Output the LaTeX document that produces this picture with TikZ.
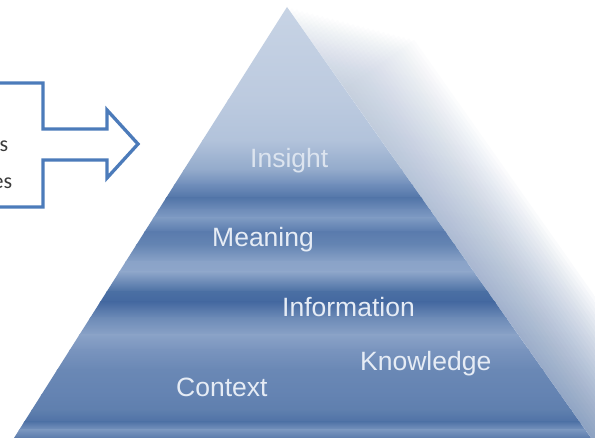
\documentclass[tikz,border=0pt]{standalone}
\usepackage{fontspec}
\newfontfamily\lblfont{Liberation Sans}
\newfontfamily\calfont{Carlito}
\definecolor{arrowblue}{HTML}{4C7BBA}
\definecolor{shadowblue}{HTML}{5878AA}
\colorlet{shadowtop}{shadowblue!35!white}
\definecolor{lbl}{HTML}{E6ECF5}
\definecolor{lblfaint}{HTML}{DCE4EF}
\definecolor{txtgray}{HTML}{3A3A3A}
\definecolor{s0}{HTML}{C8D4E5}
\definecolor{s1}{HTML}{BCCADF}
\definecolor{s2}{HTML}{B2C3DB}
\definecolor{s3}{HTML}{93AACB}
\definecolor{s4}{HTML}{6F8DBA}
\definecolor{s5}{HTML}{5275A8}
\definecolor{s6}{HTML}{6F8DBA}
\definecolor{s7}{HTML}{7F9BC3}
\definecolor{s8}{HTML}{5A7BAD}
\definecolor{s9}{HTML}{6585B3}
\definecolor{s10}{HTML}{8AA3C8}
\definecolor{s11}{HTML}{8EA6CA}
\definecolor{s12}{HTML}{4A6FA3}
\definecolor{s13}{HTML}{4468A0}
\definecolor{s14}{HTML}{6D8BB7}
\definecolor{s15}{HTML}{8AA2C7}
\definecolor{s16}{HTML}{7994BE}
\definecolor{s17}{HTML}{6A88B5}
\definecolor{s18}{HTML}{6483B2}
\definecolor{s19}{HTML}{5F7FAE}
\definecolor{s20}{HTML}{4F72A6}
\definecolor{s21}{HTML}{7A96BF}
\definecolor{s22}{HTML}{5A7AAB}
\tikzset{
  levellabel/.style={font=\lblfont\fontsize{26.5}{30}\selectfont, text=lbl, inner sep=0pt, anchor=base west},
  cuttext/.style={font=\calfont\fontsize{22}{26}\selectfont, text=txtgray, inner sep=0pt, anchor=base east},
  callout/.style={draw=arrowblue, line width=3.3pt, fill=white, line join=miter}
}
\begin{document}
\begin{tikzpicture}[x=1pt,y=-1pt]
\useasboundingbox (0,0) rectangle (595,438);
\clip (0,0) rectangle (595,438);
\fill[white] (0,0) rectangle (595,438);
\coordinate (apex) at (287,7);
\coordinate (bl) at (14,438);
\coordinate (br) at (591,438);
\coordinate (brx) at (614,471);
% soft shadow fading away from the right edge and towards the apex
\foreach \k in {1,...,25}{
  \pgfmathsetmacro\dd{\k*3.4}
  \pgfmathsetmacro\tt{\k*4}
  \shade[top color=shadowtop, bottom color=shadowblue, opacity=0.045]
    ([shift={(0.576*\tt,0.817*\tt)}]apex) -- (brx) -- ++(0.817*\dd,-0.576*\dd)
    -- ([shift={(0.576*\tt+0.817*\dd,0.817*\tt-0.576*\dd)}]apex) -- cycle;
}
% pyramid body with horizontal bands
\begin{scope}
\clip (apex) -- (br) -- (bl) -- cycle;
\fill[white] (0,0) rectangle (595,438);
\def\stops{0/s0,100/s1,140/s2,170/s3,185/s4,198/s5,210/s6,218/s7,232/s8,245/s9,262/s10,272/s11,292/s12,302/s13,318/s14,335/s15,350/s16,370/s17,395/s18,410/s19,422/s20,430/s21,438/s22}
\foreach \yy/\cc [remember=\yy as \py (initially 0), remember=\cc as \pc (initially s0)] in \stops {
  \shade[top color=\pc, bottom color=\cc] (0,\py-0.4) rectangle (595,\yy+0.4);
}
\end{scope}
% level labels
\node[levellabel, text=lblfaint] (insight) at (250,168) {Insight};
\node[levellabel] (meaning) at (212,247) {Meaning};
\node[levellabel] (information) at (282,317) {Information};
\node[levellabel] (knowledge) at (360,371) {Knowledge};
\node[levellabel] (context) at (176,397) {Context};
% callout arrow on the left
\draw[callout] (-10,83) -- (43,83) -- (43,129) -- (107,129) -- (107,110) -- (138,144)
  -- (107,178) -- (107,160) -- (43,160) -- (43,207) -- (-10,207) -- cycle;
\node[cuttext] (t1) at (8.5,152) {s};
\node[cuttext] (t2) at (12.5,189) {es};
\end{tikzpicture}
\end{document}
